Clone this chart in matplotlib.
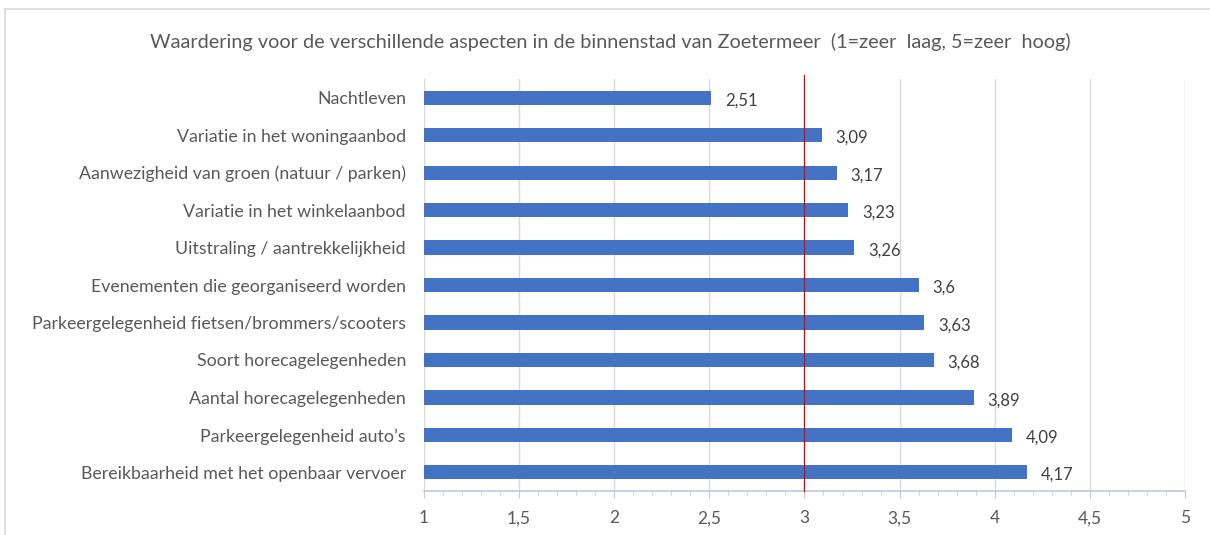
import matplotlib
matplotlib.use("Agg")
import matplotlib.pyplot as plt
from matplotlib.ticker import MultipleLocator, FuncFormatter

categories = [
    "Nachtleven",
    "Variatie in het woningaanbod",
    "Aanwezigheid van groen (natuur / parken)",
    "Variatie in het winkelaanbod",
    "Uitstraling / aantrekkelijkheid",
    "Evenementen die georganiseerd worden",
    "Parkeergelegenheid fietsen/brommers/scooters",
    "Soort horecagelegenheden",
    "Aantal horecagelegenheden",
    "Parkeergelegenheid auto\u2019s",
    "Bereikbaarheid met het openbaar vervoer",
]
values = [2.51, 3.09, 3.17, 3.23, 3.26, 3.6, 3.63, 3.68, 3.89, 4.09, 4.17]
x_ticks = [1, 1.5, 2, 2.5, 3, 3.5, 4, 4.5, 5]
reference_value = 3
title = "Waardering voor de verschillende aspecten in de binnenstad van Zoetermeer  (1=zeer  laag, 5=zeer  hoog)"

def fmt(v):
    s = ("%g" % v).replace(".", ",")
    return s

plt.rcParams['font.family'] = ['Lato', 'DejaVu Sans']
txt = "#595959"

fig = plt.figure(figsize=(12.10, 5.35), dpi=100)
ax = fig.add_axes([0.3504, 0.0822, 0.6289, 0.770])

ypos = list(range(len(categories)))
ax.barh(ypos, values, left=0, height=0.38, color="#4472C4", zorder=3)
ax.set_xlim(1, 5)
ax.set_ylim(len(categories) - 0.5, -0.5)

for y, v in zip(ypos, values):
    ax.annotate(fmt(v), xy=(v, y), xytext=(10, -2), textcoords="offset points",
                va="center", ha="left", fontsize=12, color="#404040")

ax.axvline(reference_value, color="#E00000", lw=0.9, zorder=4, ymin=0, ymax=1.01, clip_on=False)

ax.set_xticks(x_ticks)
ax.xaxis.set_major_formatter(FuncFormatter(lambda v, p: fmt(v)))
ax.xaxis.set_minor_locator(MultipleLocator(0.1))
ax.grid(axis="x", which="major", color="#D9D9D9", lw=1, zorder=0)
ax.set_yticks(ypos)
ax.set_yticklabels(categories, fontsize=12.8, color=txt)
ax.tick_params(axis="y", length=0, pad=13)
ax.tick_params(axis="x", which="major", length=5, color="#BCC8DC", labelsize=12.5, labelcolor=txt, pad=9)
ax.tick_params(axis="x", which="minor", length=3, color="#BCC8DC")
for s in ["top", "right", "left"]:
    ax.spines[s].set_visible(False)
ax.spines["bottom"].set_color("#BCC8DC")
ax.spines["bottom"].set_linewidth(1.2)

fig.text(0.504, 0.921, title, ha="center", va="center", fontsize=14.3, color=txt)

border = plt.Rectangle((0.004, -0.1), 1.1, 1.083, transform=fig.transFigure,
                       fill=False, edgecolor="#D9D9D9", lw=1.2)
fig.add_artist(border)

fig.savefig("out.png", dpi=100)
